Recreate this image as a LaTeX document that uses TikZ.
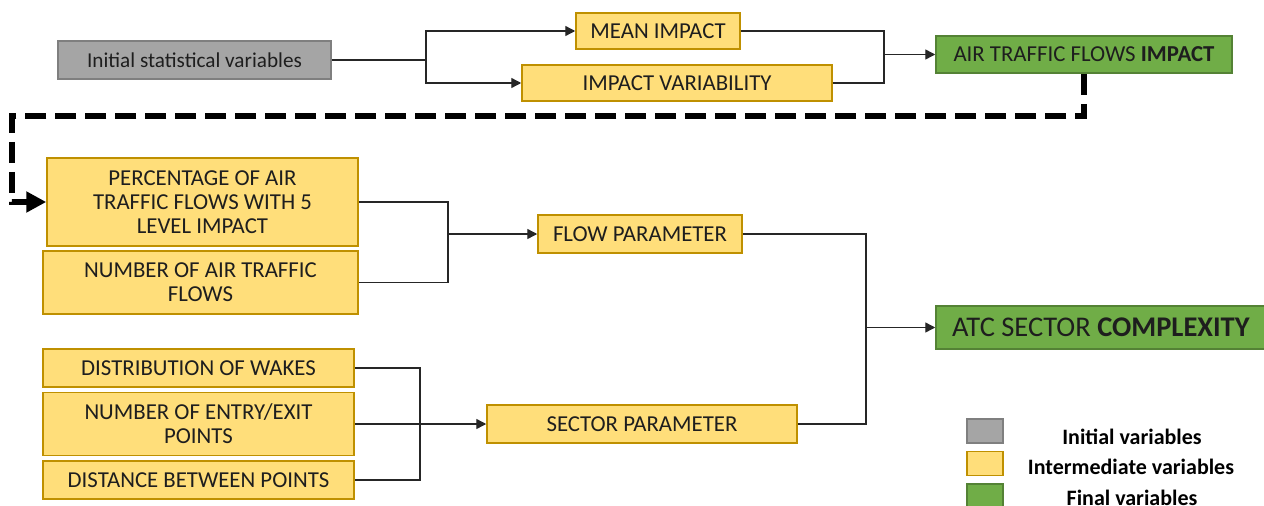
\documentclass[tikz,border=0pt]{standalone}
\usepackage{fontspec}
\setmainfont{Carlito}
\usetikzlibrary{arrows.meta}
\definecolor{yfill}{HTML}{FFDE7A}
\definecolor{yline}{HTML}{BF9000}
\definecolor{gfill}{HTML}{70AD47}
\definecolor{gline}{HTML}{548235}
\definecolor{grfill}{HTML}{A5A5A5}
\definecolor{grline}{HTML}{7F7F7F}
\definecolor{txt}{HTML}{1E1E1E}
\begin{document}
\begin{tikzpicture}[x=1pt,y=-1pt,
  box/.style={draw, line width=1.5pt, inner sep=0pt, align=center, text=txt, font=\fontsize{22.8}{24}\selectfont},
  ybox/.style={box, fill=yfill, draw=yline},
  gbox/.style={box, fill=gfill, draw=gline},
  grbox/.style={box, fill=grfill, draw=grline},
  conn/.style={line width=1.4pt, draw=black!85},
  arr/.style={conn, -{Triangle[length=10pt,width=10pt]}},
  dashline/.style={line width=6.5pt, dash pattern=on 21pt off 9pt, -{Triangle[length=20pt,width=20pt]}},
  legtext/.style={font=\bfseries\fontsize{22}{24}\selectfont, text=black, inner sep=0pt}
  ]
\useasboundingbox (0,0) rectangle (1264,506);
\fill[white] (0,0) rectangle (1264,506);

\node[grbox, minimum width=273pt, minimum height=38pt, font=\fontsize{21.2}{24}\selectfont] (init) at (194.5,60) {Initial statistical variables};
\node[ybox, minimum width=164pt, minimum height=36pt] (mean) at (658,31) {MEAN IMPACT};
\node[ybox, minimum width=310pt, minimum height=36pt] (var) at (677,83) {IMPACT VARIABILITY};
\node[gbox, minimum width=296pt, minimum height=37pt] (atf) at (1084,54.5) {AIR TRAFFIC FLOWS \textbf{IMPACT}};
\node[ybox, minimum width=311pt, minimum height=88pt] (pct) at (202.5,202) {PERCENTAGE OF AIR\\TRAFFIC FLOWS WITH 5\\LEVEL IMPACT};
\node[ybox, minimum width=315pt, minimum height=63pt] (naf) at (200.5,282.5) {NUMBER OF AIR TRAFFIC\\FLOWS};
\node[ybox, minimum width=204pt, minimum height=38pt] (flow) at (640,234) {FLOW PARAMETER};
\node[ybox, minimum width=311pt, minimum height=38pt] (wake) at (198.5,368) {DISTRIBUTION OF WAKES};
\node[ybox, minimum width=311pt, minimum height=63pt] (entry) at (198.5,424) {NUMBER OF ENTRY/EXIT\\POINTS};
\node[ybox, minimum width=311pt, minimum height=38pt] (dist) at (198.5,480) {DISTANCE BETWEEN POINTS};
\node[ybox, minimum width=310pt, minimum height=38pt] (sect) at (642,424) {SECTOR PARAMETER};
\node[gbox, minimum width=330pt, minimum height=43pt, font=\fontsize{28.5}{30}\selectfont] (atc) at (1101,327.5) {ATC SECTOR \textbf{COMPLEXITY}};

% connectors top
\coordinate (j1) at (426,60);
\draw[conn] (init.east) -- (j1);
\draw[arr] (j1) |- (mean.west);
\draw[arr] (j1) |- (var.west);
\coordinate (j2) at (884,54.5);
\draw[conn] (mean.east) -| (j2);
\draw[conn] (var.east) -| (j2);
\draw[arr] (j2) -- (atf.west);

% dashed feedback
\coordinate (d1) at (1084,116);
\coordinate (d2) at (12,116);
\draw[dashline] (atf.south) -- (d1) -- (d2) |- (pct.west);

% flow parameter
\coordinate (j3) at (448,234);
\draw[conn] (pct.east) -| (j3);
\draw[conn] (naf.east) -| (j3);
\draw[arr] (j3) -- (flow.west);

% sector parameter
\coordinate (j4) at (420,424);
\draw[conn] (wake.east) -| (j4);
\draw[conn] (dist.east) -| (j4);
\draw[arr] (entry.east) -- (sect.west);

% complexity
\coordinate (j5) at (866,327.5);
\draw[conn] (flow.east) -| (j5);
\draw[conn] (sect.east) -| (j5);
\draw[arr] (j5) -- (atc.west);

% legend
\node[grbox, minimum width=36pt, minimum height=24pt] (lg1) at (985,431) {};
\node[ybox, minimum width=36pt, minimum height=24pt] (lg2) at (985,463.5) {};
\node[gbox, minimum width=36pt, minimum height=24pt] (lg3) at (985,496) {};
\node[legtext] (lt1) at (1132,437) {Initial variables};
\node[legtext] (lt2) at (1131,467) {Intermediate variables};
\node[legtext] (lt3) at (1132,497.5) {Final variables};
\end{tikzpicture}
\end{document}
